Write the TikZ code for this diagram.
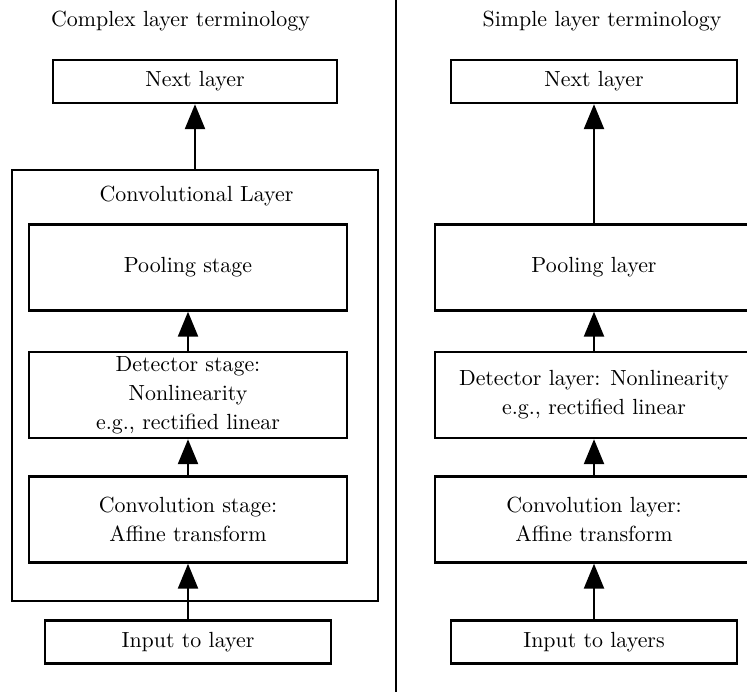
\documentclass[tikz,border=0pt,11pt]{standalone}
\usepackage{tikz}
\usetikzlibrary{arrows.meta}
\usetikzlibrary{decorations.markings}
\usetikzlibrary{positioning}
\tikzset{uparrow/.style = {decoration={markings,
                                       mark=at position 1 with {\arrow{Triangle[length=12.5pt, width=10pt]}}},
                           postaction={decorate}, shorten >= 1.5pt}}
\tikzset{box/.style = {draw, align=center, minimum width=143pt, minimum height=21.5pt},
         stagebox/.style = {draw, align=center, minimum width=159pt, minimum height=43pt, inner ysep=1pt}}

\begin{document}
\begin{tikzpicture}[x=0.5pt, y=-0.5pt, line width=1.2pt]
      \useasboundingbox (0, 0) rectangle (747, 692);
      \clip (0, 0) rectangle (747, 692);

      \begin{scope}
        \node (title1) at (180.5, 21) {Complex layer terminology};
        \node [box, minimum width=142pt] (next1) at (195, 81.5) {Next layer};
        \node [draw, minimum width=183pt, minimum height=215.5pt] (convlayer) at (195, 385.5) {};
        \node (convlabel) at (196.5, 196) {Convolutional Layer};
        \node [stagebox] (pool1) at (188, 267.5) {Pooling stage};
        \node [stagebox] (det1) at (188, 395) {Detector stage:\\[1pt] Nonlinearity\\[1pt] e.g., rectified linear};
        \node [stagebox] (conv1) at (188, 519.5) {Convolution stage:\\[1pt] Affine transform};
        \node [box] (input1) at (188, 642) {Input to layer};

        \draw [uparrow] (convlayer.north) -- (next1.south);
        \draw [uparrow] (det1.north) -- (pool1.south);
        \draw [uparrow] (conv1.north) -- (det1.south);
        \draw [uparrow] (input1.north) -- (conv1.south);
      \end{scope}

      \draw (396, 0) -- (396, 692);

      \begin{scope}
        \node (title2) at (602, 21) {Simple layer terminology};
        \node [box] (next2) at (594, 81.5) {Next layer};
        \node [stagebox] (pool2) at (594, 267.5) {Pooling layer};
        \node [stagebox] (det2) at (594, 395) {Detector layer: Nonlinearity\\[1pt] e.g., rectified linear};
        \node [stagebox] (conv2) at (594, 519.5) {Convolution layer:\\[1pt] Affine transform};
        \node [box] (input2) at (594, 642) {Input to layers};

        \draw [uparrow] (pool2.north) -- (next2.south);
        \draw [uparrow] (det2.north) -- (pool2.south);
        \draw [uparrow] (conv2.north) -- (det2.south);
        \draw [uparrow] (input2.north) -- (conv2.south);
      \end{scope}

    \end{tikzpicture}
\end{document}
